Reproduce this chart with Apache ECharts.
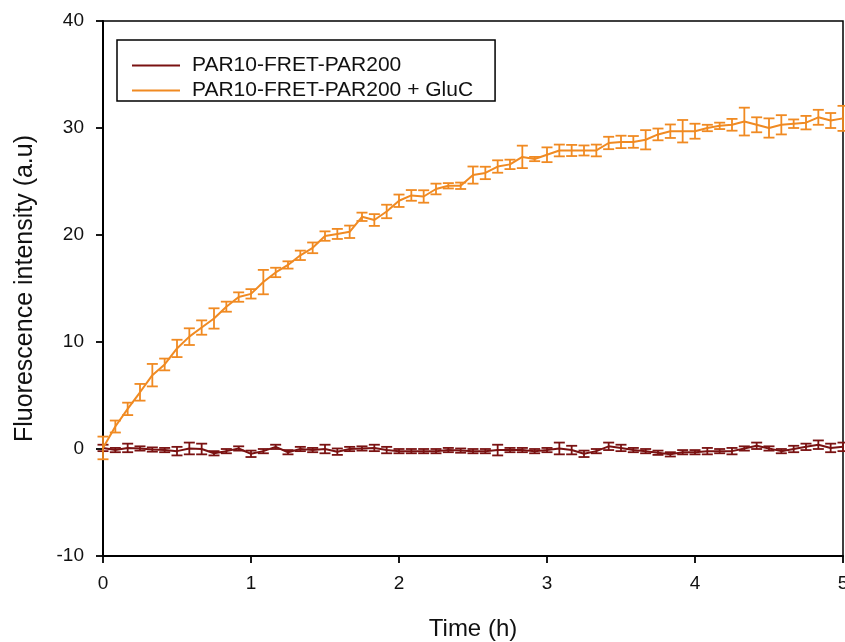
<!DOCTYPE html>
<html>
<head>
<meta charset="utf-8">
<script src="https://cdn.jsdelivr.net/npm/echarts@6/dist/echarts.min.js"></script>
<style>
html,body{margin:0;padding:0;background:#fff;}
#chart{width:845px;height:642px;}
</style>
</head>
<body>
<div id="chart"></div>
<script>
// Time points (minutes)
var timeMin = [0,5,10,15,20,25,30,35,40,45,50,55,60,65,70,75,80,85,90,95,100,105,110,115,120,125,130,135,140,145,150,155,160,165,170,175,180,185,190,195,200,205,210,215,220,225,230,235,240,245,250,255,260,265,270,275,280,285,290,295,300];

var seriesNames = ['PAR10-FRET-PAR200', 'PAR10-FRET-PAR200 + GluC'];

// PAR10-FRET-PAR200 (control)
var ctrlMean = [0.1,-0.1,0.1,0.05,-0.05,-0.1,-0.2,0.05,0,-0.4,-0.2,0.05,-0.45,-0.2,0.2,-0.3,0,-0.1,0,-0.25,0,0.05,0.1,-0.1,-0.2,-0.2,-0.2,-0.2,-0.1,-0.15,-0.2,-0.2,-0.1,-0.1,-0.1,-0.2,-0.1,0.05,-0.1,-0.45,-0.2,0.25,0.1,-0.1,-0.2,-0.35,-0.5,-0.3,-0.3,-0.2,-0.2,-0.2,0.05,0.3,0.05,-0.2,0,0.2,0.4,0.1,0.2];
var ctrlErr  = [0.3,0.2,0.4,0.2,0.2,0.2,0.4,0.55,0.5,0.2,0.2,0.2,0.3,0.2,0.2,0.2,0.2,0.2,0.4,0.3,0.2,0.2,0.3,0.3,0.2,0.2,0.2,0.2,0.2,0.2,0.2,0.2,0.5,0.2,0.2,0.2,0.2,0.55,0.4,0.3,0.2,0.35,0.3,0.2,0.2,0.2,0.2,0.2,0.2,0.3,0.2,0.3,0.2,0.3,0.2,0.2,0.3,0.3,0.4,0.4,0.4];

// PAR10-FRET-PAR200 + GluC
var glucMean = [0.1,2.1,3.75,5.3,6.9,7.9,9.4,10.5,11.35,12.2,13.3,14.2,14.5,15.6,16.5,17.2,18.1,18.8,19.9,20.1,20.3,21.7,21.4,22.2,23.2,23.7,23.6,24.3,24.6,24.6,25.6,25.8,26.4,26.6,27.3,27.1,27.5,27.9,27.9,27.9,27.9,28.6,28.7,28.7,28.9,29.4,29.7,29.7,29.7,30.0,30.2,30.3,30.6,30.3,30.0,30.3,30.4,30.5,31.0,30.7,30.9];
var glucErr  = [1.06,0.56,0.58,0.78,1.05,0.55,0.81,0.78,0.67,0.95,0.47,0.44,0.44,1.14,0.44,0.34,0.44,0.5,0.44,0.47,0.58,0.39,0.55,0.63,0.58,0.5,0.58,0.5,0.25,0.3,0.8,0.58,0.58,0.44,1.05,0.2,0.69,0.55,0.52,0.47,0.55,0.58,0.58,0.55,0.9,0.55,0.63,1.05,0.7,0.3,0.3,0.55,1.3,0.7,0.9,0.9,0.4,0.63,0.7,0.7,1.17];

var xTicks = [0,1,2,3,4,5];
var yTicks = [-10,0,10,20,30,40];

var colCtrl = '#7a1212';
var colGluc = '#f08a22';

function linePts(mean){
  return timeMin.map(function(m,i){ return [m/60, mean[i]]; });
}
function errPts(mean, err){
  return timeMin.map(function(m,i){ return [m/60, mean[i]-err[i], mean[i]+err[i]]; });
}
function errRender(color){
  return function(params, api){
    var x = api.value(0);
    var lo = api.coord([x, api.value(1)]);
    var hi = api.coord([x, api.value(2)]);
    var hw = 5.5;
    var st = {stroke: color, lineWidth: 1.8};
    return {type:'group', children:[
      {type:'line', shape:{x1:lo[0],y1:lo[1],x2:hi[0],y2:hi[1]}, style:st},
      {type:'line', shape:{x1:lo[0]-hw,y1:lo[1],x2:lo[0]+hw,y2:lo[1]}, style:st},
      {type:'line', shape:{x1:hi[0]-hw,y1:hi[1],x2:hi[0]+hw,y2:hi[1]}, style:st}
    ]};
  };
}

var chart = echarts.init(document.getElementById('chart'), null, {renderer:'canvas'});
var font = 'Liberation Sans, Arial, sans-serif';
chart.setOption({
  animation:false,
  backgroundColor:'#fff',
  textStyle:{fontFamily:font},
  grid:{left:103, right:2, top:21, bottom:86, show:true, borderColor:'#000', borderWidth:1.5, backgroundColor:'transparent', containLabel:false, outerBoundsMode:'none'},
  legend:{
    data:seriesNames,
    orient:'vertical',
    left:117, top:40,
    padding:[15,22,0,15],
    itemGap:4,
    icon:'rect',
    itemWidth:48, itemHeight:2,
    borderColor:'#000', borderWidth:1.5,
    backgroundColor:'#fff',
    textStyle:{fontSize:21, lineHeight:18, color:'#111', fontFamily:font, padding:[0,0,0,7]}
  },
  xAxis:{
    type:'value', min:xTicks[0], max:xTicks[xTicks.length-1], interval:1,
    name:'Time (h)', nameLocation:'middle', nameGap:61,
    nameTextStyle:{fontSize:24, color:'#111', fontFamily:font},
    axisLine:{show:true, onZero:false, lineStyle:{color:'#000', width:2}},
    axisTick:{show:true, inside:false, length:7, lineStyle:{color:'#000', width:1.8}},
    axisLabel:{fontSize:19, color:'#111', margin:18, fontFamily:font},
    splitLine:{show:false}
  },
  yAxis:{
    type:'value', min:yTicks[0], max:yTicks[yTicks.length-1], interval:10,
    name:'Fluorescence intensity (a.u)', nameLocation:'middle', nameGap:65, nameRotate:90,
    nameTextStyle:{fontSize:25, color:'#111', fontFamily:font},
    axisLine:{show:true, onZero:false, lineStyle:{color:'#000', width:2}},
    axisTick:{show:true, inside:false, length:7, lineStyle:{color:'#000', width:1.8}},
    axisLabel:{fontSize:19, color:'#111', margin:19, fontFamily:font},
    splitLine:{show:false}
  },
  series:[
    {name:seriesNames[0], type:'line', data:linePts(ctrlMean), symbol:'none', lineStyle:{color:colCtrl, width:2}, itemStyle:{color:colCtrl}, z:2},
    {name:seriesNames[0]+' err', type:'custom', data:errPts(ctrlMean, ctrlErr), renderItem:errRender(colCtrl), encode:{x:0,y:[1,2]}, z:2, silent:true},
    {name:seriesNames[1], type:'line', data:linePts(glucMean), symbol:'none', lineStyle:{color:colGluc, width:2}, itemStyle:{color:colGluc}, z:3},
    {name:seriesNames[1]+' err', type:'custom', data:errPts(glucMean, glucErr), renderItem:errRender(colGluc), encode:{x:0,y:[1,2]}, z:3, silent:true}
  ]
});
</script>
</body>
</html>
